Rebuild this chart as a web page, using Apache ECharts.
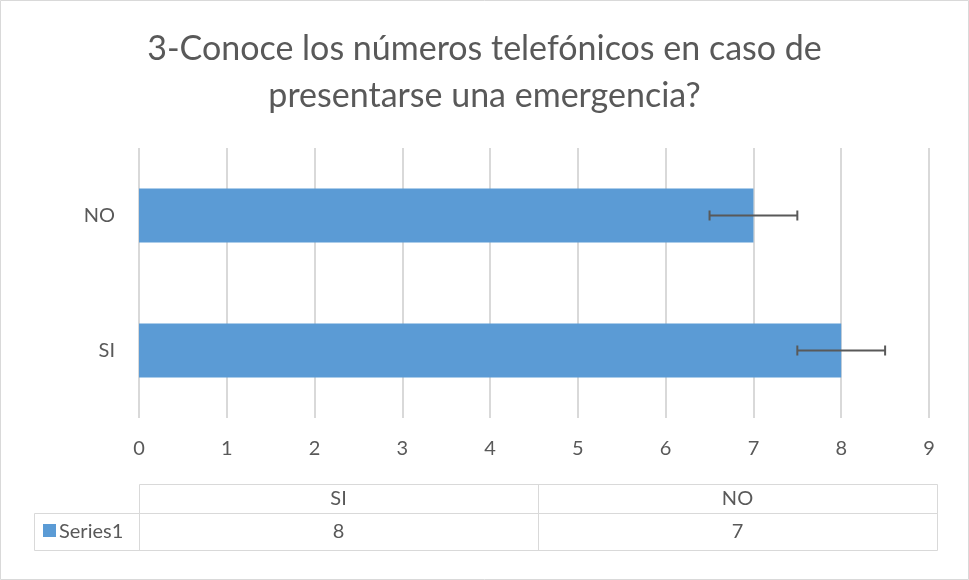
<!doctype html>
<html>
<head>
<meta charset="utf-8">
<title>Conoce los números telefónicos</title>
<script src="https://cdn.jsdelivr.net/npm/echarts@6/dist/echarts.min.js"></script>
<style>
  html, body { margin: 0; padding: 0; background: #fff; }
  #main { width: 969px; height: 580px; }
</style>
</head>
<body>
<div id="main"></div>
<script>
// data
var categories = ['SI', 'NO'];
var values = [8, 7];
var errAmount = [0.5, 0.5];
var seriesName = 'Series1';
var xTicks = [0, 9, 1]; // min, max, interval

var FONT = 'Lato';
var GRAY = '#595959';
var LINE = '#d9d9d9';
var BLUE = '#5b9bd5';
var LBL = 20;

var chart = echarts.init(document.getElementById('main'));

// error bar data: [categoryIndex, low, high]
var errData = [];
for (var i = 0; i < values.length; i++) {
  errData.push([i, values[i] - errAmount[i], values[i] + errAmount[i]]);
}

// data table under the chart (built from the same arrays)
var tbl = { left: 34, col0: 139, right: 937, top: 484, mid: 513, bottom: 550 };
var tableGfx = [];
var colW = (tbl.right - tbl.col0) / categories.length;
tableGfx.push({ type: 'rect', shape: { x: tbl.col0 + 0.5, y: tbl.top + 0.5, width: tbl.right - tbl.col0, height: tbl.mid - tbl.top },
  style: { fill: 'none', stroke: LINE, lineWidth: 1 } });
tableGfx.push({ type: 'rect', shape: { x: tbl.left + 0.5, y: tbl.mid + 0.5, width: tbl.right - tbl.left, height: tbl.bottom - tbl.mid },
  style: { fill: 'none', stroke: LINE, lineWidth: 1 } });
tableGfx.push({ type: 'line', shape: { x1: tbl.col0 + 0.5, y1: tbl.mid, x2: tbl.col0 + 0.5, y2: tbl.bottom },
  style: { stroke: LINE, lineWidth: 1 } });
for (var c = 0; c < categories.length; c++) {
  var cx = tbl.col0 + colW * c + colW / 2;
  if (c > 0) {
    tableGfx.push({ type: 'line', shape: { x1: tbl.col0 + colW * c + 0.5, y1: tbl.top, x2: tbl.col0 + colW * c + 0.5, y2: tbl.bottom },
      style: { stroke: LINE, lineWidth: 1 } });
  }
  tableGfx.push({ type: 'text', x: cx, y: (tbl.top + tbl.mid) / 2,
    style: { text: categories[c], fill: GRAY, font: LBL + 'px ' + FONT, textAlign: 'center', textVerticalAlign: 'middle' } });
  tableGfx.push({ type: 'text', x: cx, y: (tbl.mid + tbl.bottom) / 2,
    style: { text: String(values[c]), fill: GRAY, font: LBL + 'px ' + FONT, textAlign: 'center', textVerticalAlign: 'middle' } });
}
// legend key + series name
tableGfx.push({ type: 'rect', shape: { x: 43, y: 524, width: 13, height: 13 }, style: { fill: BLUE } });
tableGfx.push({ type: 'text', x: 59, y: (tbl.mid + tbl.bottom) / 2,
  style: { text: seriesName, fill: GRAY, font: LBL + 'px ' + FONT, textAlign: 'left', textVerticalAlign: 'middle' } });
// outer chart border
tableGfx.push({ type: 'rect', shape: { x: 0.5, y: 0.5, width: 968, height: 579 },
  style: { fill: 'none', stroke: LINE, lineWidth: 1 } });

var option = {
  animation: false,
  backgroundColor: '#fff',
  title: {
    text: '3-Conoce los números telefónicos en caso de\npresentarse una emergencia?',
    left: 'center',
    top: 21,
    textStyle: { fontFamily: FONT, fontSize: 34, fontWeight: 'normal', color: GRAY, lineHeight: 47 }
  },
  grid: { left: 139, right: 40, top: 148, bottom: 162 },
  xAxis: {
    type: 'value',
    min: xTicks[0], max: xTicks[1], interval: xTicks[2],
    axisLine: { show: false },
    axisTick: { show: false },
    axisLabel: { color: GRAY, fontFamily: FONT, fontSize: LBL, margin: 21 },
    splitLine: { show: true, lineStyle: { color: LINE, width: 2 } }
  },
  yAxis: {
    type: 'category',
    data: categories,
    axisLine: { show: false },
    axisTick: { show: false },
    axisLabel: { color: GRAY, fontFamily: FONT, fontSize: LBL, margin: 24 }
  },
  series: [
    {
      name: seriesName,
      type: 'bar',
      data: values,
      barWidth: '40%',
      itemStyle: { color: BLUE },
      z: 2
    },
    {
      type: 'custom',
      data: errData,
      encode: { x: [1, 2], y: 0 },
      z: 3,
      renderItem: function (params, api) {
        var y = api.value(0);
        var lo = api.coord([api.value(1), y]);
        var hi = api.coord([api.value(2), y]);
        var h = 5;
        var st = { stroke: GRAY, lineWidth: 2 };
        return {
          type: 'group',
          children: [
            { type: 'line', shape: { x1: lo[0], y1: lo[1], x2: hi[0], y2: hi[1] }, style: st },
            { type: 'line', shape: { x1: lo[0], y1: lo[1] - h, x2: lo[0], y2: lo[1] + h }, style: st },
            { type: 'line', shape: { x1: hi[0], y1: hi[1] - h, x2: hi[0], y2: hi[1] + h }, style: st }
          ]
        };
      }
    }
  ],
  graphic: tableGfx
};
chart.setOption(option);
</script>
</body>
</html>
